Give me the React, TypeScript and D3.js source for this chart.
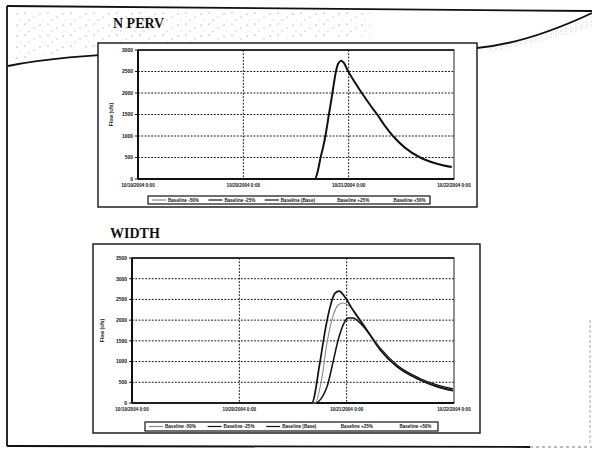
import React from "react";
import * as d3 from "d3";

// ---------- data ----------
const X_TICK_HOURS = [0, 24, 48, 72];
const X_TICK_LABELS_TOP = ["10/19/2004 0:00", "10/20/2004 0:00", "10/21/2004 0:00", "10/22/2004 0:00"];
const X_TICK_LABELS_BOTTOM = ["10/19/2004 0:00", "10/20/2004 0:00", "10/21/2004 0:00", "10/22/2004 0:00"];
const Y_TICKS_TOP = [0, 500, 1000, 1500, 2000, 2500, 3000];
const Y_TICKS_BOTTOM = [0, 500, 1000, 1500, 2000, 2500, 3000, 3500];
const Y_TITLE = "Flow (cfs)";

const LEGEND_TOP = ["Baseline -50%", "Baseline -25%", "Baseline (Base)", "Baseline +25%", "Baseline +50%"];
const LEGEND_BOTTOM = ["Baseline -50%", "Baseline -25%", "Baseline (Base)", "Baseline +25%", "Baseline +50%"];

// N PERV: all runs overlap into one visible hydrograph
const NPERV_HOURS = [0, 40.3, 41.0, 41.6, 42.2, 42.7, 43.5, 44.3, 45.1, 45.6, 46.3, 46.9, 47.8, 49.4, 51.0, 52.9, 54.5, 56.3, 58.1, 60.8, 64.3, 67.9, 71.5];
const NPERV_FLOW = [0, 0, 200, 500, 750, 1000, 1500, 2000, 2500, 2680, 2750, 2700, 2520, 2250, 2000, 1720, 1500, 1230, 1000, 730, 500, 360, 277];

// WIDTH: three visible hydrographs
const WIDTH_B_HOURS = [0, 40.9, 42.5, 43.6, 44.9, 46.1, 47.2, 48.3, 50.5, 52.5, 55.5, 59.3, 64.4, 68.0, 71.8];
const WIDTH_B_FLOW = [0, 0, 630, 1450, 2080, 2365, 2414, 2365, 2100, 1780, 1300, 885, 565, 410, 315];
const WIDTH_A_HOURS = [0, 40.2, 42.0, 43.2, 44.3, 45.4, 46.3, 47.6, 49.4, 52.5, 55.5, 59.3, 64.4, 68.0, 71.8];
const WIDTH_A_FLOW = [0, 0, 965, 1760, 2320, 2650, 2700, 2560, 2245, 1760, 1280, 870, 555, 400, 295];
const WIDTH_C_HOURS = [0, 40.9, 43.6, 44.9, 46.1, 47.2, 48.3, 49.4, 51.0, 53.2, 55.5, 59.3, 64.4, 68.0, 71.8];
const WIDTH_C_FLOW = [0, 0, 390, 965, 1520, 1880, 2050, 2050, 1930, 1650, 1320, 910, 590, 440, 340];

type Series = { hours: number[]; flow: number[]; color: string; width: number };
type Box = { x: number; y: number; w: number; h: number };

const FONT = "'Liberation Sans', Arial, sans-serif";

function Chart(props: {
  frame: Box;
  plot: Box;
  yTicks: number[];
  xLabels: string[];
  series: Series[];
  legend: string[];
  legendColors: string[];
  legendBox: Box;
  yTitleX: number;
}) {
  const { frame, plot, yTicks, xLabels, series, legend, legendColors, legendBox, yTitleX } = props;
  const x = d3.scaleLinear().domain([0, 72]).range([plot.x, plot.x + plot.w]);
  const y = d3.scaleLinear().domain([0, d3.max(yTicks) as number]).range([plot.y + plot.h, plot.y]);
  const line = d3
    .line<[number, number]>()
    .x((d) => x(d[0]))
    .y((d) => y(d[1]))
    .curve(d3.curveMonotoneX);
  const bottom = plot.y + plot.h;
  const slot = legendBox.w / legend.length;
  return (
    <g>
      <rect x={frame.x} y={frame.y} width={frame.w} height={frame.h} fill="#fff" stroke="#111" strokeWidth={1.4} />
      {/* grid */}
      {yTicks.slice(1, -1).map((t) => (
        <line key={"gy" + t} x1={plot.x} x2={plot.x + plot.w} y1={y(t)} y2={y(t)} stroke="#111" strokeWidth={1} strokeDasharray="1.8,1.5" />
      ))}
      {X_TICK_HOURS.slice(1, -1).map((t) => (
        <line key={"gx" + t} x1={x(t)} x2={x(t)} y1={plot.y} y2={bottom} stroke="#111" strokeWidth={1} strokeDasharray="1.8,1.5" />
      ))}
      {/* plot border */}
      <rect x={plot.x} y={plot.y} width={plot.w} height={plot.h} fill="none" stroke="#222" strokeWidth={1} />
      <line x1={plot.x} x2={plot.x + plot.w} y1={plot.y} y2={plot.y} stroke="#111" strokeWidth={1.6} />
      <line x1={plot.x} x2={plot.x} y1={plot.y} y2={bottom} stroke="#111" strokeWidth={2} />
      <line x1={plot.x} x2={plot.x + plot.w} y1={bottom} y2={bottom} stroke="#111" strokeWidth={2} />
      {/* y ticks */}
      {yTicks.map((t) => (
        <g key={"yt" + t}>
          <line x1={plot.x - 3} x2={plot.x} y1={y(t)} y2={y(t)} stroke="#111" strokeWidth={1} />
          <text x={plot.x - 5} y={y(t) + 1.8} fontSize={5} fontWeight="bold" textAnchor="end" fontFamily={FONT} fill="#111">
            {t}
          </text>
        </g>
      ))}
      {/* x ticks */}
      {X_TICK_HOURS.map((t, i) => (
        <text key={"xt" + t} x={x(t)} y={bottom + 8} fontSize={4.6} fontWeight="bold" textAnchor="middle" fontFamily={FONT} fill="#111">
          {xLabels[i]}
        </text>
      ))}
      <text
        transform={`translate(${yTitleX},${plot.y + plot.h / 2}) rotate(-90)`}
        fontSize={5}
        fontWeight="bold"
        textAnchor="middle"
        fontFamily={FONT}
        fill="#111"
      >
        {Y_TITLE}
      </text>
      {/* series */}
      {series.map((s, i) => (
        <path
          key={"s" + i}
          d={line(s.hours.map((h, j) => [h, s.flow[j]] as [number, number])) || ""}
          fill="none"
          stroke={s.color}
          strokeWidth={s.width}
          strokeLinejoin="round"
        />
      ))}
      {/* legend */}
      <rect x={legendBox.x} y={legendBox.y} width={legendBox.w} height={legendBox.h} fill="#fff" stroke="#111" strokeWidth={1.2} />
      {legend.map((name, i) => {
        const lx = legendBox.x + 4 + i * slot;
        const cy = legendBox.y + legendBox.h / 2;
        return (
          <g key={"lg" + i}>
            <line x1={lx} x2={lx + 14} y1={cy} y2={cy} stroke={legendColors[i]} strokeWidth={1.2} />
            <text x={lx + 16} y={cy + 1.6} fontSize={4.6} fontWeight="bold" fontFamily={FONT} fill="#111">
              {name}
            </text>
          </g>
        );
      })}
    </g>
  );
}

export default function App() {
  const W = 592;
  const H = 450;
  return (
    <svg
      width={W}
      height={H}
      viewBox={`0 0 ${W} ${H}`}
      style={{ position: "absolute", left: 0, top: 0, background: "#fff" }}
    >
      <defs>
        <pattern id="stip" width="23" height="11" patternUnits="userSpaceOnUse">
          <circle cx="2" cy="2" r="0.55" fill="#666" />
          <circle cx="11" cy="6" r="0.5" fill="#777" />
          <circle cx="17" cy="3" r="0.55" fill="#666" />
          <circle cx="6" cy="9" r="0.5" fill="#777" />
          <circle cx="20" cy="9" r="0.45" fill="#888" />
        </pattern>
        <pattern id="stip2" width="5" height="3" patternUnits="userSpaceOnUse">
          <circle cx="1" cy="1" r="0.5" fill="#777" />
          <circle cx="3.5" cy="2.3" r="0.4" fill="#999" />
        </pattern>
      </defs>
      <rect x={0} y={0} width={W} height={H} fill="#fff" />
      {/* stippled header band */}
      <path d="M14,10 L370,10 L370,36 L99,46 L14,62 Z" fill="url(#stip)" />
      <path d="M485,49 Q540,36 592,19 L592,27 Q545,42 490,52 Z" fill="url(#stip2)" opacity={0.8} />
      {/* swoosh */}
      <path d="M8,66 C 120,42 400,55 477,48 C 520,44 560,28 592,13" fill="none" stroke="#111" strokeWidth={1.8} />
      {/* slide border */}
      <line x1={7} y1={6} x2={592} y2={11} stroke="#111" strokeWidth={1.8} />
      <line x1={7} y1={6} x2={7} y2={446} stroke="#111" strokeWidth={1.8} />
      <line x1={7} y1={446} x2={530} y2={447} stroke="#111" strokeWidth={1.8} />
      <line x1={530} y1={447} x2={592} y2={447} stroke="#777" strokeWidth={1} strokeDasharray="3,3" />
      <line x1={590} y1={320} x2={590} y2={444} stroke="#aaa" strokeWidth={1} strokeDasharray="3,2" />

      <text x={113} y={28} fontSize={14} fontWeight="bold" fontFamily="'Liberation Serif', 'Times New Roman', serif" fill="#111">
        N PERV
      </text>
      <Chart
        frame={{ x: 98, y: 43, w: 379, h: 164 }}
        plot={{ x: 138, y: 50, w: 316, h: 129 }}
        yTicks={Y_TICKS_TOP}
        xLabels={X_TICK_LABELS_TOP}
        series={[{ hours: NPERV_HOURS, flow: NPERV_FLOW, color: "#111", width: 2 }]}
        legend={LEGEND_TOP}
        legendColors={["#888", "#111", "#111", "#fff", "#fff"]}
        legendBox={{ x: 148, y: 196, w: 282, h: 8 }}
        yTitleX={113}
      />

      <text x={110} y={238} fontSize={14} fontWeight="bold" fontFamily="'Liberation Serif', 'Times New Roman', serif" fill="#111">
        WIDTH
      </text>
      <Chart
        frame={{ x: 93, y: 244, w: 387, h: 189 }}
        plot={{ x: 132, y: 258, w: 322, h: 145 }}
        yTicks={Y_TICKS_BOTTOM}
        xLabels={X_TICK_LABELS_BOTTOM}
        series={[
          { hours: WIDTH_C_HOURS, flow: WIDTH_C_FLOW, color: "#111", width: 1.5 },
          { hours: WIDTH_B_HOURS, flow: WIDTH_B_FLOW, color: "#8a8a8a", width: 1.1 },
          { hours: WIDTH_A_HOURS, flow: WIDTH_A_FLOW, color: "#111", width: 1.7 },
        ]}
        legend={LEGEND_BOTTOM}
        legendColors={["#888", "#111", "#111", "#fff", "#fff"]}
        legendBox={{ x: 145, y: 422, w: 293, h: 9 }}
        yTitleX={104}
      />
    </svg>
  );
}
